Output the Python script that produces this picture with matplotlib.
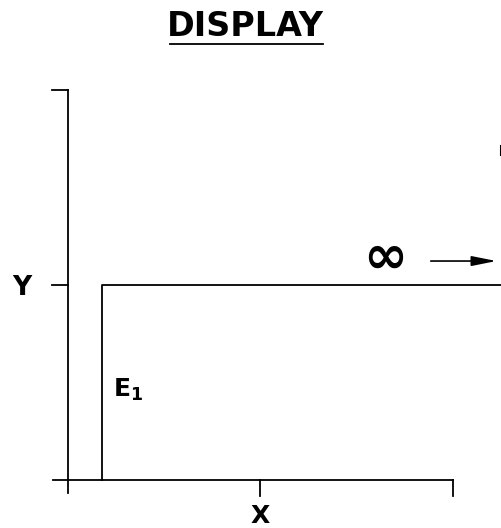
import matplotlib
matplotlib.use("Agg")
import matplotlib.pyplot as plt

# step response shown on the display (x, y)
step_x = [0.088, 0.088, 1.14]
step_y = [0.0, 1.0, 1.0]

# axis extents and tick positions
x_axis = [-0.039, 1.0]
y_axis = [-0.067, 2.0]
x_ticks = [0.5, 1.0]
y_ticks = [1.0, 2.0]

title = "DISPLAY"
x_label = "X"
y_label = "Y"
step_label = r"$\mathbf{E}_{\mathbf{1}}$"

fig = plt.figure(figsize=(5.02, 5.28), dpi=100)
ax = fig.add_axes([0, 0, 1, 1])
ax.set_xlim(-0.1766, 1.1273)
ax.set_ylim(-0.246, 2.4615)
ax.axis("off")

lw = 1.3
ink = "black"

# axes drawn like the hand-made figure
ax.plot(x_axis, [0, 0], color=ink, lw=lw)
ax.plot([0, 0], y_axis, color=ink, lw=lw)
for t in x_ticks:
    ax.plot([t, t], [0, -0.082], color=ink, lw=lw)
for t in y_ticks:
    ax.plot([-0.042, 0], [t, t], color=ink, lw=lw)

# the step
ax.plot(step_x, step_y, color=ink, lw=lw, clip_on=True)

# labels
ax.text(0.462, 2.325, title, ha="center", va="center", fontsize=24,
        fontweight="bold", color=ink)
ax.plot([0.265, 0.662], [2.236, 2.236], color=ink, lw=1.3)
ax.text(0.499, -0.185, x_label, ha="center", va="center", fontsize=18,
        fontweight="bold", color=ink)
ax.text(-0.119, 0.985, y_label, ha="center", va="center", fontsize=19,
        fontweight="bold", color=ink)
ax.text(0.116, 0.46, step_label, ha="left", va="center", fontsize=18,
        color=ink)

# infinity going off to the right
ax.text(0.823, 1.14, "\u221e", ha="center", va="center", fontsize=38,
        fontweight="bold", color=ink)
ax.annotate("", xy=(1.12, 1.123), xytext=(0.935, 1.123),
            arrowprops=dict(arrowstyle="-|>,head_length=1.5,head_width=0.3",
                            color=ink, lw=1.2))

# small stray mark at the right edge
ax.plot([1.1247, 1.1247], [1.713, 1.667], color=ink, lw=1.5)

fig.savefig("out.png", dpi=100)
